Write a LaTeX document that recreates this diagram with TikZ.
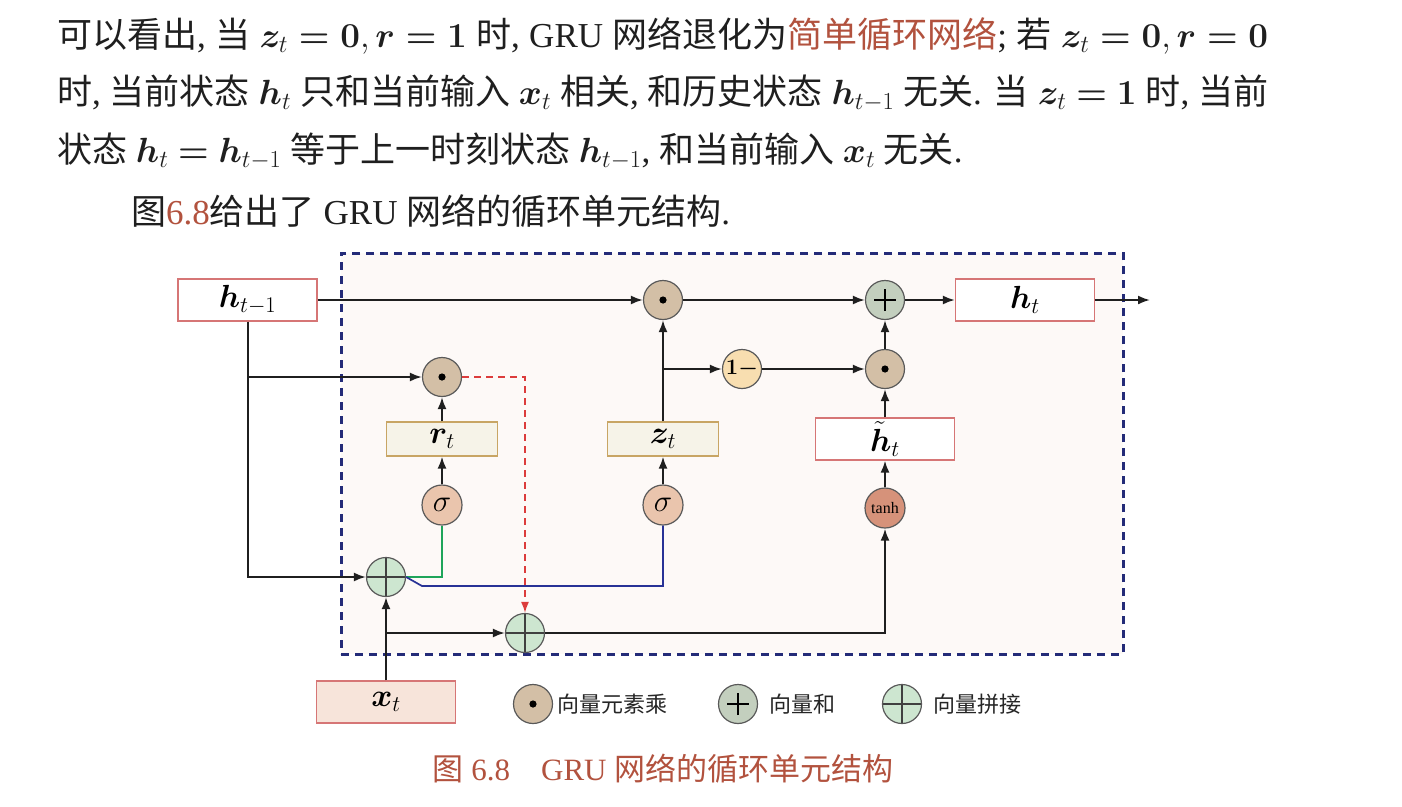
\RequirePackage{fix-cm}
\documentclass[tikz,border=0pt]{standalone}
\usepackage{amsmath}
\usepackage{bm}
\usepackage[no-math]{fontspec}
\setmainfont{Liberation Serif}
\newfontfamily\cjk{Noto Sans CJK SC}
\usetikzlibrary{arrows.meta}

\newcommand{\zhtext}[1]{{\cjk #1}}

\definecolor{accent}{RGB}{178,82,62}
\definecolor{cellborder}{RGB}{36,43,120}
\definecolor{cellfill}{RGB}{253,249,247}
\definecolor{boxred}{RGB}{214,118,118}
\definecolor{gateborder}{RGB}{200,165,100}
\definecolor{gatefill}{RGB}{246,243,232}
\definecolor{xfill}{RGB}{247,228,218}
\definecolor{mulfill}{RGB}{211,191,166}
\definecolor{addfill}{RGB}{195,207,190}
\definecolor{catfill}{RGB}{205,230,208}
\definecolor{omfill}{RGB}{248,222,176}
\definecolor{sigfill}{RGB}{234,197,173}
\definecolor{tanhfill}{RGB}{214,146,122}
\definecolor{rline}{RGB}{30,165,90}
\definecolor{zline}{RGB}{40,50,150}
\definecolor{resetline}{RGB}{220,60,60}

\tikzset{
  bodytext/.style={anchor=base west, inner sep=0pt, font=\fontsize{35}{40}\selectfont, text=black!88},
  conn/.style={line width=2pt, draw=black!88, -{Latex[length=12pt,width=9pt]}},
  opcirc/.style={circle, draw=black!65, line width=1.2pt, minimum size=39pt, inner sep=0pt},
  mulop/.style={opcirc, fill=mulfill,
    path picture={\fill[black] (path picture bounding box.center) circle (3.6pt);}},
  addop/.style={opcirc, fill=addfill,
    path picture={
      \draw[line width=2.6pt, black] ([xshift=-11pt]path picture bounding box.center) -- ([xshift=11pt]path picture bounding box.center);
      \draw[line width=2.6pt, black] ([yshift=-11pt]path picture bounding box.center) -- ([yshift=11pt]path picture bounding box.center);}},
  catop/.style={opcirc, fill=catfill,
    path picture={
      \draw[line width=1.1pt, black!75] (path picture bounding box.north) -- (path picture bounding box.south);
      \draw[line width=1.1pt, black!75] (path picture bounding box.west) -- (path picture bounding box.east);}},
  sigop/.style={opcirc, fill=sigfill, minimum size=40pt, font=\fontsize{31}{34}\selectfont},
  tanhop/.style={opcirc, fill=tanhfill, minimum size=40pt, font=\fontsize{16}{18}\selectfont},
  omop/.style={opcirc, fill=omfill, font=\fontsize{22}{26}\selectfont},
  statebox/.style={draw=boxred, line width=1.2pt, fill=white, minimum width=139pt,
    minimum height=42pt, inner sep=0pt, font=\fontsize{32}{36}\selectfont},
  gatebox/.style={draw=gateborder, line width=1.2pt, fill=gatefill, minimum width=111pt,
    minimum height=34pt, inner sep=0pt, font=\fontsize{32}{36}\selectfont},
  cell/.style={draw=cellborder, fill=cellfill, line width=3pt, dash pattern=on 8pt off 6pt,
    inner sep=0pt, minimum width=782pt, minimum height=401pt},
  greenpath/.style={line width=1.7pt, draw=rline},
  bluepath/.style={line width=1.7pt, draw=zline},
  resetpath/.style={line width=1.5pt, draw=resetline, dash pattern=on 7pt off 5pt,
    -{Latex[length=11pt,width=8pt]}},
  legendtext/.style={anchor=west, inner sep=0pt, font=\fontsize{22}{26}\selectfont\cjk, text=black!85},
  captiontext/.style={inner sep=0pt, font=\fontsize{31}{36}\selectfont, text=accent}
}

\begin{document}
\begin{tikzpicture}[x=1pt, y=-1pt]
\useasboundingbox (0,0) rectangle (1402,806);
\fill[white] (0,0) rectangle (1402,806);

% paragraph above the figure (first two lines justified to the measure)
\node[bodytext] (l1) at (57,47) {\makebox[1211pt][s]{\zhtext{可以看出}, \zhtext{当} $\bm{z}_t \bm{=} \bm{0}, \bm{r} \bm{=} \bm{1}$ \zhtext{时}, GRU \zhtext{网络退化为}{\color{accent}\zhtext{简单循环网络}}; \zhtext{若} $\bm{z}_t \bm{=} \bm{0}, \bm{r} \bm{=} \bm{0}$}};
\node[bodytext] (l2) at (57,104) {\makebox[1211pt][s]{\zhtext{时}, \zhtext{当前状态} $\bm{h}_t$ \zhtext{只和当前输入} $\bm{x}_t$ \zhtext{相关}, \zhtext{和历史状态} $\bm{h}_{t-1}$ \zhtext{无关}. \zhtext{当} $\bm{z}_t \bm{=} \bm{1}$ \zhtext{时}, \zhtext{当前}}};
\node[bodytext] (l3) at (57,162) {\zhtext{状态} $\bm{h}_t \bm{=} \bm{h}_{t-1}$ \zhtext{等于上一时刻状态} $\bm{h}_{t-1}$, \zhtext{和当前输入} $\bm{x}_t$ \zhtext{无关}.};
\node[bodytext] (l4) at (131,224) {\zhtext{图}{\color{accent}6.8}\zhtext{给出了} GRU \zhtext{网络的循环单元结构}.};

% recurrent cell region
\node[cell] (cell) at (732,453.5) {};

% states, gates and operators
\node[statebox] (hprev) at (247.5,300) {$\bm{h}_{t-1}$};
\node[mulop] (m1) at (663,300) {};
\node[addop] (add) at (885,300) {};
\node[statebox] (hcur) at (1025,300) {$\bm{h}_t$};
\coordinate (out) at (1150,300);
\node[mulop] (mr) at (442,377) {};
\node[omop] (om) at (742,369) {$\bm{1}{\bm{-}}$};
\node[mulop] (m2) at (885,369) {};
\node[gatebox] (rt) at (442,439) {$\bm{r}_t$};
\node[gatebox] (zt) at (663,439) {$\bm{z}_t$};
\node[statebox] (hh) at (885,439) {$\tilde{\bm{h}}_t$};
\node[sigop] (s1) at (442,505) {$\sigma$};
\node[sigop] (s2) at (663,505) {$\sigma$};
\node[tanhop] (th) at (885,508) {tanh};
\node[catop] (c1) at (386,577) {};
\node[catop] (c2) at (525,633) {};
\node[statebox, fill=xfill] (xt) at (386,702) {$\bm{x}_t$};
\coordinate (bend) at (422,586);

% connectors
\draw[conn] (hprev.east) -- (m1.west);
\draw[conn] (m1.east) -- (add.west);
\draw[conn] (add.east) -- (hcur.west);
\draw[conn] (hcur.east) -- (out);
\draw[conn] (hprev.south) |- (c1.west);
\draw[conn] (hprev.south |- mr.west) -- (mr.west);
\draw[conn] (zt.north) -- (m1.south);
\draw[conn] (zt.north |- om.west) -- (om.west);
\draw[conn] (om.east) -- (m2.west);
\draw[conn] (m2.north) -- (add.south);
\draw[conn] (hh.north) -- (m2.south);
\draw[conn] (th.north) -- (hh.south);
\draw[conn] (rt.north) -- (mr.south);
\draw[conn] (s1.north) -- (rt.south);
\draw[conn] (s2.north) -- (zt.south);
\draw[greenpath] (c1.east) -| (s1.south);
\draw[bluepath] (c1.east) -- (bend) -| (s2.south);
\draw[resetpath] (mr.east) -| (c2.north);
\draw[conn] (xt.north) -- (c1.south);
\draw[conn] (xt.north |- c2.west) -- (c2.west);
\draw[conn] (c2.east) -| (th.south);

% legend
\node[mulop] (lg1) at (533,704) {};
\node[legendtext] (lg1t) at (557,704) {向量元素乘};
\node[addop] (lg2) at (738,704) {};
\node[legendtext] (lg2t) at (769,704) {向量和};
\node[catop] (lg3) at (902,704) {};
\node[legendtext] (lg3t) at (933,704) {向量拼接};

% caption
\node[captiontext] (cap) at (663,769) {\zhtext{图} 6.8\quad GRU \zhtext{网络的循环单元结构}};
\end{tikzpicture}
\end{document}
